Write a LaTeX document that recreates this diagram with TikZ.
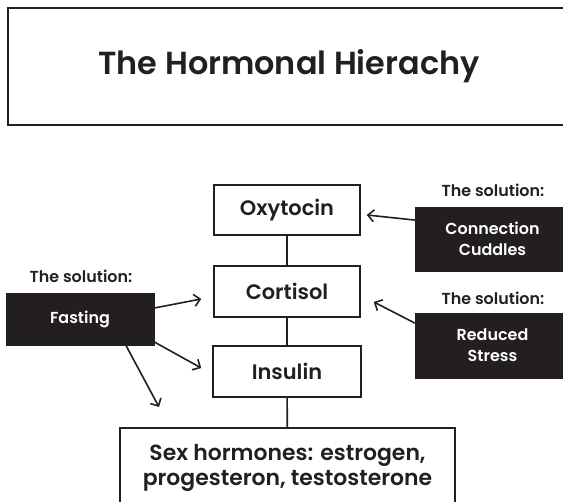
\documentclass[tikz,border=0pt]{standalone}
\usepackage{fontspec}
\setmainfont{Poppins}[BoldFont={Poppins SemiBold}]
\usetikzlibrary{arrows.meta}

\definecolor{tinta}{HTML}{231F20}

\tikzset{
  hormbox/.style={draw=tinta, line width=1.6bp, fill=white, text=tinta,
    align=center, font=\bfseries\fontsize{21}{25}\selectfont},
  solbox/.style={draw=tinta, fill=tinta, text=white, align=center,
    font=\bfseries\fontsize{16}{21}\selectfont},
  sollabel/.style={text=tinta, font=\bfseries\fontsize{16}{20}\selectfont},
  flecha/.style={->, draw=tinta, line width=1.6bp}
}

\begin{document}
\begin{tikzpicture}[x=1bp, y=1bp, >={Straight Barb[length=6bp,width=12bp]}]
\useasboundingbox (0,0) rectangle (563,-502);

% Titulo
\node[hormbox, minimum width=562bp, minimum height=117bp,
      font=\bfseries\fontsize{32}{38}\selectfont] (title) at (289,-66.5) {The Hormonal Hierachy};

% Hormonas
\node[hormbox, minimum width=146bp, minimum height=50bp] (oxy) at (287,-210) {Oxytocin};
\node[hormbox, minimum width=146bp, minimum height=51bp] (cort) at (287,-291.5) {Cortisol};
\node[hormbox, minimum width=148bp, minimum height=51bp] (ins) at (287,-371.5) {Insulin};
\node[hormbox, minimum width=335bp, minimum height=80bp,
      font=\bfseries\fontsize{22}{25}\selectfont] (sex) at (287.5,-468)
      {Sex hormones: estrogen,\\progesteron, testosterone};

\draw[tinta, line width=1.6bp] (oxy) -- (cort);
\draw[tinta, line width=1.6bp] (cort) -- (ins);
\draw[tinta, line width=1.6bp] (ins) -- (sex);

% Soluciones
\node[solbox, minimum width=148bp, minimum height=52bp] (fast) at (80,-319) {Fasting};
\node[sollabel] (fastlbl) at (81,-276) {The solution:};

\node[solbox, minimum width=155bp, minimum height=64bp] (conn) at (492.5,-239) {Connection\\Cuddles};
\node[sollabel] (connlbl) at (493,-190) {The solution:};

\node[solbox, minimum width=155bp, minimum height=65bp] (stress) at (492.5,-345.5) {Reduced\\Stress};
\node[sollabel] (stresslbl) at (493,-298) {The solution:};

% Flechas
\coordinate (libre) at (159,-407);
\draw[flecha] ([yshift=11]fast.east) -- ([xshift=-12,yshift=-7.5]cort.west);
\draw[flecha] ([yshift=-23]fast.east) -- ([xshift=-11,yshift=3.5]ins.west);
\draw[flecha] ([xshift=46]fast.south) -- (libre);
\draw[flecha] ([yshift=19]conn.west) -- ([xshift=6,yshift=-5]oxy.east);
\draw[flecha] ([yshift=22.5]stress.west) -- ([xshift=13,yshift=-10.5]cort.east);

\end{tikzpicture}
\end{document}
